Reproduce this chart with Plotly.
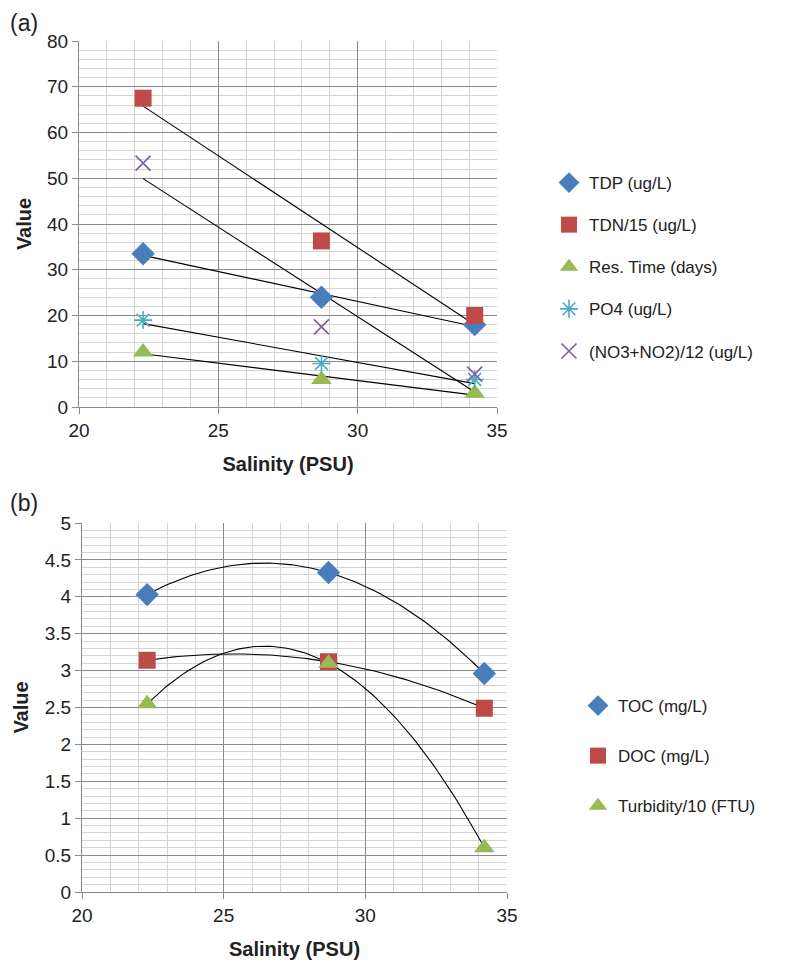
import numpy as np
import plotly.graph_objects as go

# ---- data ----
salinity = [22.3, 28.7, 34.2]

# panel (a)
tdp = [33.5, 24.0, 18.0]
tdn15 = [67.5, 36.3, 20.0]
res_time = [12.0, 6.0, 3.0]
po4 = [19.0, 9.5, 6.0]
no3no2_12 = [53.3, 17.5, 7.2]

# panel (b)
toc = [4.03, 4.33, 2.96]
doc = [3.14, 3.12, 2.49]
turb10 = [2.55, 3.10, 0.60]

names_a = ["TDP (ug/L)", "TDN/15 (ug/L)", "Res. Time (days)", "PO4 (ug/L)", "(NO3+NO2)/12 (ug/L)"]
names_b = ["TOC (mg/L)", "DOC (mg/L)", "Turbidity/10 (FTU)"]

BLUE = "#4A7EBB"
RED = "#BE4B48"
GREEN = "#98B954"
CYAN = "#4BACC6"
PURPLE = "#7D60A0"

FONT = "Liberation Sans, Arial, sans-serif"

fig = go.Figure()

def trend(x, y, deg, xa, ya):
    c = np.polyfit(x, y, deg)
    xs = np.linspace(min(x), max(x), 100)
    fig.add_trace(go.Scatter(x=xs, y=np.polyval(c, xs), mode="lines",
                             line=dict(color="black", width=1.1),
                             showlegend=False, hoverinfo="skip",
                             xaxis=xa, yaxis=ya))

# panel (a) trendlines (linear)
for ys in [tdp, tdn15, res_time, po4, no3no2_12]:
    trend(salinity, ys, 1, "x", "y")

series_a = [
    (tdp, names_a[0], "diamond", BLUE, 18, 0),
    (tdn15, names_a[1], "square", RED, 17, 0),
    (res_time, names_a[2], "triangle-up", GREEN, 18, 0),
    (po4, names_a[3], "asterisk-open", CYAN, 15, 1.6),
    (no3no2_12, names_a[4], "x-thin-open", PURPLE, 15, 1.6),
]
for i, (ys, nm, sym, col, sz, lw) in enumerate(series_a):
    fig.add_trace(go.Scatter(x=salinity, y=ys, mode="markers", name=nm,
                             marker=dict(symbol=sym, color=col, size=sz,
                                         line=dict(color=col, width=lw)),
                             legend="legend", legendgroup="a%d" % i,
                             xaxis="x", yaxis="y"))

# panel (b) trendlines (2nd order polynomial)
for ys in [toc, doc, turb10]:
    trend(salinity, ys, 2, "x2", "y2")

series_b = [
    (toc, names_b[0], "diamond", BLUE, 18),
    (doc, names_b[1], "square", RED, 17),
    (turb10, names_b[2], "triangle-up", GREEN, 18),
]
for i, (ys, nm, sym, col, sz) in enumerate(series_b):
    fig.add_trace(go.Scatter(x=salinity, y=ys, mode="markers", name=nm,
                             marker=dict(symbol=sym, color=col, size=sz, line=dict(width=0)),
                             legend="legend2", legendgroup="b%d" % i,
                             xaxis="x2", yaxis="y2"))

# page has an 8px body margin; figure is sized so it fits in the window
OFF = 8
W, H = 795 - OFF, 964 - OFF

def px_x(p):
    return (p - OFF) / W

def px_y(p):
    return 1 - (p - OFF) / H

def xaxis(domain, anchor):
    return dict(domain=domain, anchor=anchor, range=[20, 35], dtick=5,
                showgrid=True, gridcolor="#8a8a8a", gridwidth=1,
                minor=dict(dtick=1, showgrid=True, gridcolor="#d4d4d4", gridwidth=1),
                showline=True, linecolor="#8a8a8a", linewidth=1,
                ticks="outside", ticklen=6, tickcolor="#8a8a8a",
                tickfont=dict(size=19, color="#222", family=FONT),
                title=dict(text="<b>Salinity (PSU)</b>", font=dict(size=20, color="#222", family=FONT),
                           standoff=17),
                automargin=False, zeroline=False, mirror=False)

def yaxis(domain, anchor, rng, dt, mdt):
    return dict(domain=domain, anchor=anchor, range=rng, dtick=dt,
                showgrid=True, gridcolor="#8a8a8a", gridwidth=1,
                minor=dict(dtick=mdt, showgrid=True, gridcolor="#d4d4d4", gridwidth=1),
                showline=True, linecolor="#8a8a8a", linewidth=1,
                ticks="outside", ticklen=6, tickcolor="#8a8a8a",
                tickfont=dict(size=19, color="#222", family=FONT),
                title=dict(text="<b>Value</b>", font=dict(size=20, color="#222", family=FONT),
                           standoff=10),
                automargin=False, zeroline=False)

fig.update_layout(
    width=W, height=H,
    margin=dict(l=0, r=0, t=0, b=0, autoexpand=False),
    paper_bgcolor="white", plot_bgcolor="white",
    font=dict(family=FONT, color="#222"),
    xaxis=xaxis([px_x(79), px_x(497)], "y"),
    yaxis=yaxis([px_y(407), px_y(41)], "x", [0, 80], 10, 2),
    xaxis2=xaxis([px_x(82), px_x(507)], "y2"),
    yaxis2=yaxis([px_y(892), px_y(523)], "x2", [0, 5], 0.5, 0.1),
    legend=dict(x=px_x(549), y=px_y(165), xanchor="left", yanchor="top",
                font=dict(size=17, color="#222", family=FONT),
                tracegroupgap=17, bgcolor="rgba(0,0,0,0)"),
    legend2=dict(x=px_x(578), y=px_y(688), xanchor="left", yanchor="top",
                 font=dict(size=17, color="#222", family=FONT),
                 tracegroupgap=25, bgcolor="rgba(0,0,0,0)"),
    showlegend=True,
    annotations=[
        dict(text="(a)", x=0, y=px_y(8), xref="paper", yref="paper",
             xanchor="left", yanchor="top", showarrow=False,
             font=dict(size=23, color="#222", family=FONT)),
        dict(text="(b)", x=0, y=px_y(488), xref="paper", yref="paper",
             xanchor="left", yanchor="top", showarrow=False,
             font=dict(size=23, color="#222", family=FONT)),
    ],
)

fig.write_html("out.html")
